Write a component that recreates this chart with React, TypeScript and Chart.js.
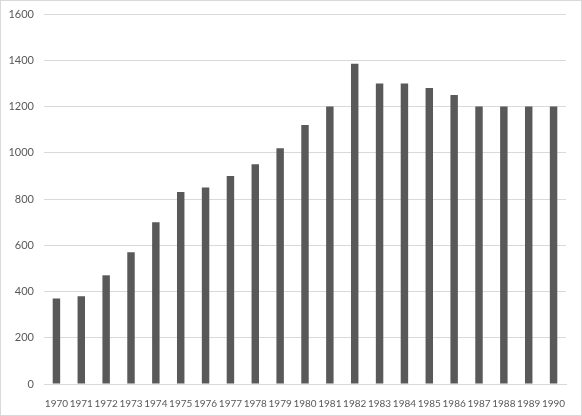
import React, { useEffect, useRef } from "react";
import { Chart, registerables } from "chart.js";

Chart.register(...registerables);

const years: string[] = [
  "1970", "1971", "1972", "1973", "1974", "1975", "1976", "1977", "1978", "1979",
  "1980", "1981", "1982", "1983", "1984", "1985", "1986", "1987", "1988", "1989", "1990",
];
const values: number[] = [
  370, 380, 470, 570, 700, 830, 850, 900, 950, 1020,
  1120, 1200, 1385, 1300, 1300, 1280, 1250, 1200, 1200, 1200, 1200,
];
const yMin = 0;
const yMax = 1600;
const yStep = 200;

export default function App() {
  const ref = useRef<HTMLCanvasElement | null>(null);

  useEffect(() => {
    document.body.style.margin = "0";
    const canvas = ref.current;
    if (!canvas) return;
    const chart = new Chart(canvas, {
      type: "bar",
      data: {
        labels: years,
        datasets: [
          {
            data: values,
            backgroundColor: "#595959",
            borderWidth: 0,
            barPercentage: 0.3,
            categoryPercentage: 1,
          },
        ],
      },
      options: {
        animation: false,
        responsive: false,
        maintainAspectRatio: false,
        layout: { padding: { left: 0, right: 15, top: 13, bottom: 4 } },
        plugins: { legend: { display: false }, tooltip: { enabled: false } },
        scales: {
          x: {
            grid: { display: false },
            border: { display: true, color: "#d9d9d9" },
            ticks: {
              autoSkip: false,
              maxRotation: 0,
              minRotation: 0,
              padding: 6,
              color: "#595959",
              font: { family: "Lato, 'Liberation Sans', sans-serif", size: 10 },
            },
            afterFit: (s: any) => {
              s.height = 27;
              s.paddingLeft = 0;
              s.paddingRight = 0;
            },
          },
          y: {
            min: yMin,
            max: yMax,
            ticks: {
              stepSize: yStep,
              padding: 10,
              color: "#595959",
              font: { family: "Lato, 'Liberation Sans', sans-serif", size: 11 },
              callback: (v: any) => String(v),
            },
            grid: { color: "#d9d9d9", drawTicks: false },
            border: { display: false },
            afterFit: (s: any) => {
              s.width = 43;
              s.paddingTop = 0;
              s.paddingBottom = 0;
            },
          },
        },
      },
    });
    return () => chart.destroy();
  }, []);

  return (
    <div
      style={{
        width: 582,
        height: 416,
        boxSizing: "border-box",
        border: "1px solid #d9d9d9",
        background: "#ffffff",
      }}
    >
      <canvas ref={ref} width={580} height={414} style={{ display: "block" }} />
    </div>
  );
}
